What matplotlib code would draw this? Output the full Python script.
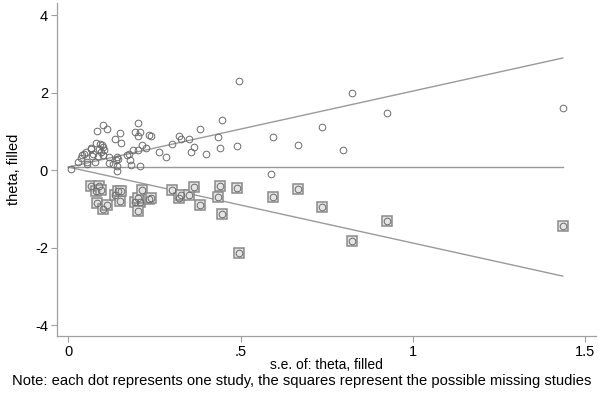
import matplotlib
matplotlib.use("Agg")
import matplotlib.pyplot as plt

plt.rcParams['font.family'] = ['Liberation Sans', 'DejaVu Sans']

# observed studies (s.e., theta)
obs_se = [0.009, 0.027, 0.038, 0.041, 0.044, 0.050, 0.054, 0.054, 0.066, 0.067,
          0.069, 0.073, 0.076, 0.080, 0.083, 0.087, 0.089, 0.093, 0.096, 0.098,
          0.100, 0.102, 0.102, 0.104, 0.112, 0.119, 0.118, 0.131, 0.136, 0.137,
          0.140, 0.140, 0.142, 0.143, 0.149, 0.154, 0.170, 0.175, 0.178, 0.181,
          0.189, 0.195, 0.202, 0.203, 0.203, 0.208, 0.209, 0.215, 0.225, 0.233,
          0.241, 0.264, 0.283, 0.301, 0.320, 0.328, 0.350, 0.356, 0.366, 0.383,
          0.401, 0.436, 0.441, 0.447, 0.490, 0.495, 0.589, 0.593, 0.668, 0.736,
          0.798, 0.825, 0.926, 1.436]
obs_theta = [0.02, 0.21, 0.32, 0.39, 0.43, 0.46, 0.15, 0.20, 0.57, 0.54,
             0.36, 0.42, 0.20, 0.69, 1.01, 0.36, 0.55, 0.67, 0.47, 0.64,
             0.60, 1.16, 0.39, 0.53, 1.05, 0.33, 0.19, 0.17, 0.80, 0.26,
             0.34, 0.10, -0.01, 0.30, 0.95, 0.71, 0.39, 0.42, 0.26, 0.13,
             0.52, 0.98, 1.22, 0.88, 0.53, 0.98, 0.10, 0.66, 0.56, 0.90,
             0.89, 0.47, 0.34, 0.67, 0.88, 0.81, 0.81, 0.46, 0.60, 1.07,
             0.41, 0.85, 0.58, 1.30, 0.63, 2.30, -0.10, 0.86, 0.64, 1.12,
             0.52, 2.00, 1.48, 1.61]

# filled (possibly missing) studies
fill_se = [0.066, 0.080, 0.089, 0.095, 0.083, 0.102, 0.112, 0.136, 0.149, 0.145,
           0.154, 0.195, 0.208, 0.202, 0.203, 0.215, 0.233, 0.241, 0.301, 0.320,
           0.328, 0.350, 0.366, 0.383, 0.436, 0.441, 0.447, 0.490, 0.495, 0.593,
           0.668, 0.736, 0.825, 0.926, 1.436]
fill_theta = [-0.41, -0.53, -0.40, -0.50, -0.85, -1.00, -0.89, -0.64, -0.79, -0.54,
              -0.55, -0.82, -0.82, -1.06, -0.72, -0.50, -0.74, -0.73, -0.51, -0.72,
              -0.65, -0.65, -0.44, -0.91, -0.69, -0.42, -1.14, -0.47, -2.14, -0.70,
              -0.48, -0.96, -1.84, -1.32, -1.45]

# pooled estimate and pseudo 95% limits
theta_pooled = 0.08
se_max = 1.436

fig = plt.figure(figsize=(6.0, 3.97), dpi=100)
ax = fig.add_axes([0.095, 0.1537, 0.898, 0.8383])

line_col = '#9a9a9a'
ax.plot([0, se_max], [theta_pooled, theta_pooled], color=line_col, lw=1.0)
ax.plot([0, se_max], [theta_pooled, theta_pooled + 1.96 * se_max], color=line_col, lw=1.0)
ax.plot([0, se_max], [theta_pooled, theta_pooled - 1.96 * se_max], color=line_col, lw=1.0)

# squares for filled studies, circles for all points
ax.plot(fill_se, fill_theta, linestyle='none', marker='s', markersize=7.2,
        markerfacecolor='#e4e4e4', markeredgecolor='#8a8a8a', markeredgewidth=1.1)
ax.plot(obs_se + fill_se, obs_theta + fill_theta, linestyle='none', marker='o',
        markersize=4.8, markerfacecolor='none', markeredgecolor='#6a6a6a',
        markeredgewidth=0.7)

ax.set_xlim(-0.033, 1.532)
ax.set_ylim(-4.28, 4.31)
ax.set_xticks([0, 0.5, 1, 1.5])
ax.set_xticklabels(['0', '.5', '1', '1.5'])
ax.set_yticks([-4, -2, 0, 2, 4])
ax.set_yticklabels(['-4', '-2', '0', '2', '4'])

for side in ['top', 'right']:
    ax.spines[side].set_visible(False)
for side in ['left', 'bottom']:
    ax.spines[side].set_color('#a0a0a0')
    ax.spines[side].set_linewidth(0.9)
ax.tick_params(colors='#a0a0a0', labelcolor='black', labelsize=10.5, length=4, width=0.8, pad=2.5)

ax.set_xlabel('s.e. of: theta, filled', fontsize=10, labelpad=-1)
ax.set_ylabel('theta, filled', fontsize=10.5, labelpad=10)

fig.text(0.02, 0.041, 'Note: each dot represents one study, the squares represent the possible missing studies',
         fontsize=10.6, ha='left', va='center')

fig.savefig('out.png', dpi=100)
